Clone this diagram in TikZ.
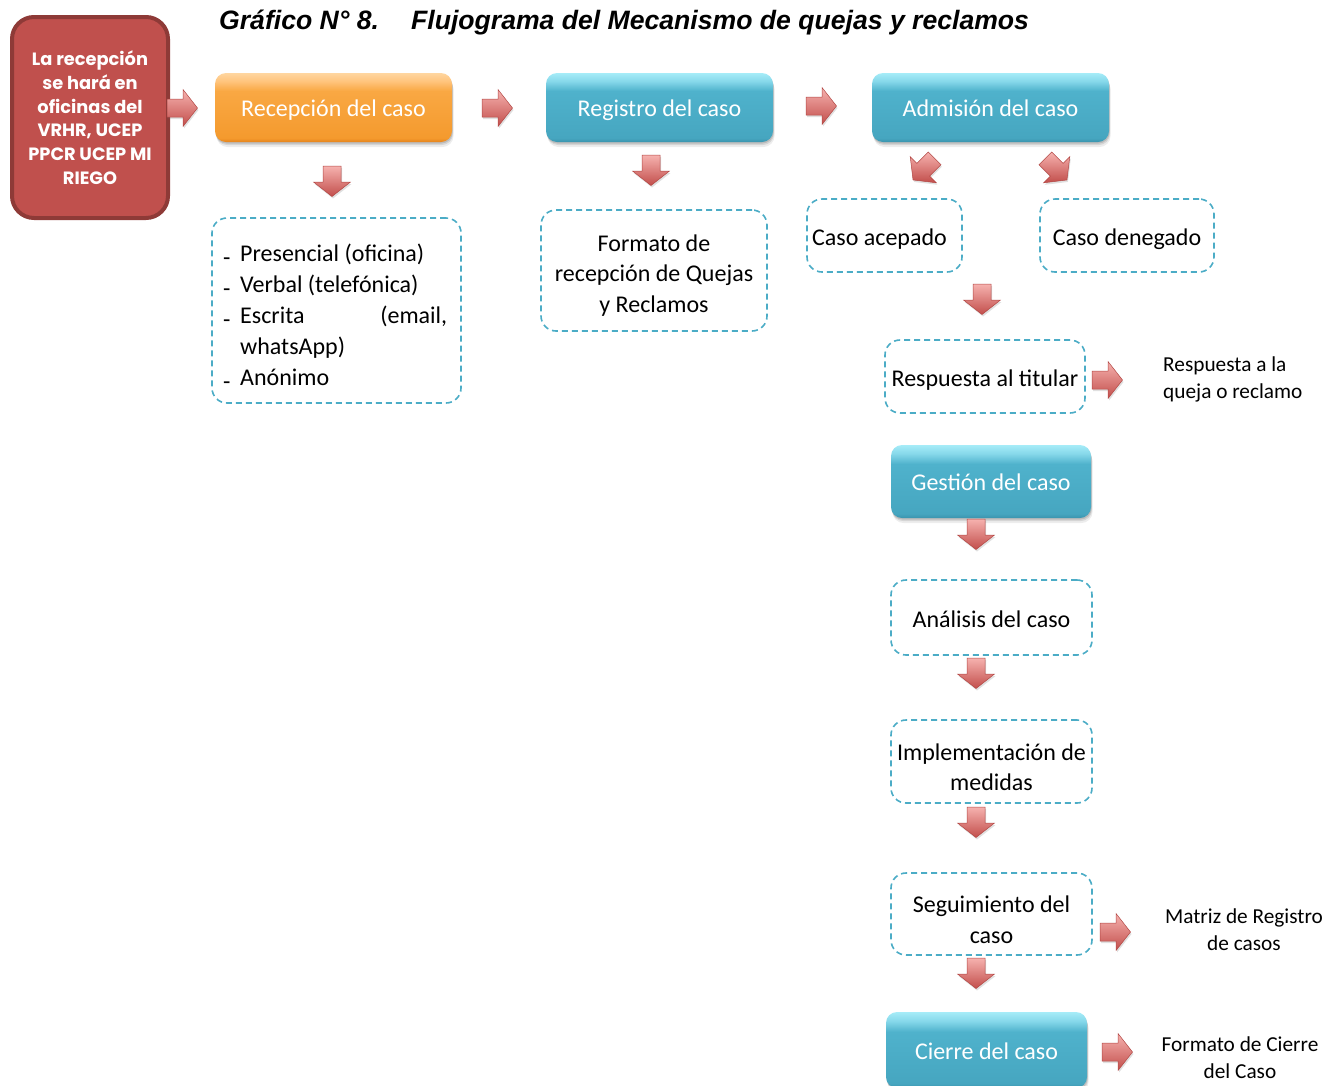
\documentclass[tikz,border=0pt]{standalone}
\usepackage{fontspec}
\setmainfont{Carlito}
\newfontfamily\titlefont{Liberation Sans}
\newfontfamily\gothfont{Poppins}
\usetikzlibrary{shadows}
\definecolor{redfill}{HTML}{C0504D}
\definecolor{redline}{HTML}{8E3A37}
\definecolor{dashblue}{HTML}{4BACC6}
\definecolor{blueD}{HTML}{3A94AE}
\definecolor{blueM2}{HTML}{46A6C0}
\definecolor{blueM}{HTML}{4FB2CC}
\definecolor{blueL}{HTML}{86D8EA}
\definecolor{blueL2}{HTML}{A6ECF8}
\definecolor{orD}{HTML}{E5841C}
\definecolor{orM2}{HTML}{F49A2E}
\definecolor{orM}{HTML}{F9A843}
\definecolor{orL}{HTML}{FFC47C}
\definecolor{orL2}{HTML}{FFD6A0}
\definecolor{arrL}{HTML}{F6B2AF}
\definecolor{arrD}{HTML}{C24E4B}
\definecolor{arrE}{HTML}{B24744}
\pgfdeclareverticalshading{bluebevel}{100bp}{color(0bp)=(blueD); color(25bp)=(blueD); color(28bp)=(blueM2); color(62bp)=(blueM); color(69bp)=(blueL); color(75bp)=(blueL2); color(100bp)=(blueL2)}
\pgfdeclareverticalshading{orbevel}{100bp}{color(0bp)=(orD); color(25bp)=(orD); color(28bp)=(orM2); color(62bp)=(orM); color(69bp)=(orL); color(75bp)=(orL2); color(100bp)=(orL2)}
\newcommand\dashitem{\makebox[17pt][l]{\raisebox{-4pt}{-}}}
\tikzset{
  softshadow/.style={
    drop shadow={shadow xshift=0.5pt, shadow yshift=-1.5pt, opacity=0.12, fill=black},
    drop shadow={shadow xshift=1pt, shadow yshift=-3pt, opacity=0.10, fill=black},
    drop shadow={shadow xshift=1.5pt, shadow yshift=-5pt, opacity=0.07, fill=black}},
  stepblue/.style={shading=bluebevel, rounded corners=11pt, inner sep=0pt, text=white,
    font=\fontsize{24}{30}\selectfont, text height=22pt, text depth=4pt, softshadow},
  steporange/.style={stepblue, shading=orbevel},
  dbox/.style={draw=dashblue, line width=1.6pt, dash pattern=on 6pt off 4pt, rounded corners=15pt,
    fill=white, inner sep=0pt, align=center, font=\fontsize{24}{30.5}\selectfont},
  oneline/.style={text height=23pt, text depth=4pt},
  boxtext/.style={inner sep=0pt, align=center, font=\fontsize{24}{30.5}\selectfont},
  sidetext/.style={inner sep=0pt, font=\fontsize{21.3}{27}\selectfont},
  blockarrow/.pic={\shade[top color=arrL, bottom color=arrD, draw=arrE, line width=0.5pt,
    drop shadow={shadow xshift=1pt, shadow yshift=-2pt, opacity=0.2, fill=black!60}]
    (-15,-9) -- (1,-9) -- (1,-18.5) -- (15.5,0) -- (1,18.5) -- (1,9) -- (-15,9) -- cycle;}
}
\begin{document}
\begin{tikzpicture}[x=1pt,y=-1pt]
\useasboundingbox (0,0) rectangle (1326,1085);
% title
\node[anchor=west, inner sep=0pt, font=\titlefont\bfseries\itshape\fontsize{26.6}{30}\selectfont] (title) at (219,22.5)
  {Gráfico N°~8.\hspace{32pt}Flujograma del Mecanismo de quejas y reclamos};
% red origin box
\node[draw=redline, line width=4pt, fill=redfill, rounded corners=22pt, minimum width=156pt, minimum height=201pt,
  inner sep=0pt, align=center, text=white, font=\gothfont\bfseries\fontsize{17.8}{23.7}\selectfont] (origin) at (90,117.5)
  {La recepción\\se hará en\\oficinas del\\VRHR, UCEP\\PPCR UCEP MI\\RIEGO};
% main steps
\node[steporange, minimum width=237pt, minimum height=69pt] (recep) at (333.5,107.5) {Recepción del caso};
\node[stepblue, minimum width=227pt, minimum height=69pt] (regis) at (659.5,107.5) {Registro del caso};
\node[stepblue, minimum width=237pt, minimum height=69pt] (admis) at (990.5,107.5) {Admisión del caso};
\node[stepblue, minimum width=200pt, minimum height=73pt] (gestion) at (991,481.5) {Gestión del caso};
\node[stepblue, minimum width=201pt, minimum height=76pt] (cierre) at (986.5,1050) {Cierre del caso};
% dashed boxes
\node[dbox, minimum width=249pt, minimum height=185pt] (listbox) at (336.5,310.5) {};
\node[anchor=west, inner sep=0pt, align=left, font=\fontsize{24}{31}\selectfont] (listtxt) at (223,317)
  {\dashitem Presencial (oficina)\\ \dashitem Verbal (telefónica)\\ \dashitem\makebox[207pt][l]{Escrita\hfill(email,}\\ \hspace*{17pt}whatsApp)\\ \dashitem Anónimo};
\node[dbox, minimum width=226pt, minimum height=121pt] (formato) at (654,270.5) {};
\node[boxtext] (formatotxt) at (654,275.5) {Formato de\\recepción de Quejas\\y Reclamos};
\node[dbox, oneline, minimum width=155pt, minimum height=73pt] (acept) at (884.5,235.5) {\hspace*{-10pt}Caso acepado};
\node[dbox, oneline, minimum width=174pt, minimum height=73pt] (deneg) at (1127,235.5) {Caso denegado};
\node[dbox, oneline, minimum width=200pt, minimum height=73pt] (resp) at (985,376.5) {Respuesta al titular};
\node[dbox, oneline, minimum width=201pt, minimum height=75pt] (analisis) at (991.5,617.5) {Análisis del caso};
\node[dbox, minimum width=201pt, minimum height=83pt] (implem) at (991.5,761.5) {};
\node[boxtext] (implemtxt) at (991.5,767) {Implementación de\\medidas};
\node[dbox, minimum width=201pt, minimum height=82pt] (segui) at (991.5,914) {};
\node[boxtext] (seguitxt) at (991.5,919.5) {Seguimiento del\\caso};
% side texts
\node[sidetext, anchor=west, align=left] (resptxt) at (1163,379.5) {Respuesta a la\\queja o reclamo};
\node[sidetext, align=center] (matriz) at (1244,930) {Matriz de Registro\\de casos};
\node[sidetext, align=center] (fcierre) at (1240,1058) {Formato de Cierre\\del Caso};
% block arrows
\pic at (182,108) {blockarrow};
\pic at (497,108) {blockarrow};
\pic at (821,106) {blockarrow};
\pic[rotate=-90] at (332,181) {blockarrow};
\pic[rotate=-90] at (651,170) {blockarrow};
\pic[rotate=-135] at (924,169) {blockarrow};
\pic[rotate=-45] at (1056,169) {blockarrow};
\pic[rotate=-90] at (982,299) {blockarrow};
\pic at (1107,380) {blockarrow};
\pic[rotate=-90] at (976,534) {blockarrow};
\pic[rotate=-90] at (976,673) {blockarrow};
\pic[rotate=-90] at (976,822) {blockarrow};
\pic at (1115,932) {blockarrow};
\pic[rotate=-90] at (976,973) {blockarrow};
\pic at (1117,1052) {blockarrow};
\end{tikzpicture}
\end{document}
